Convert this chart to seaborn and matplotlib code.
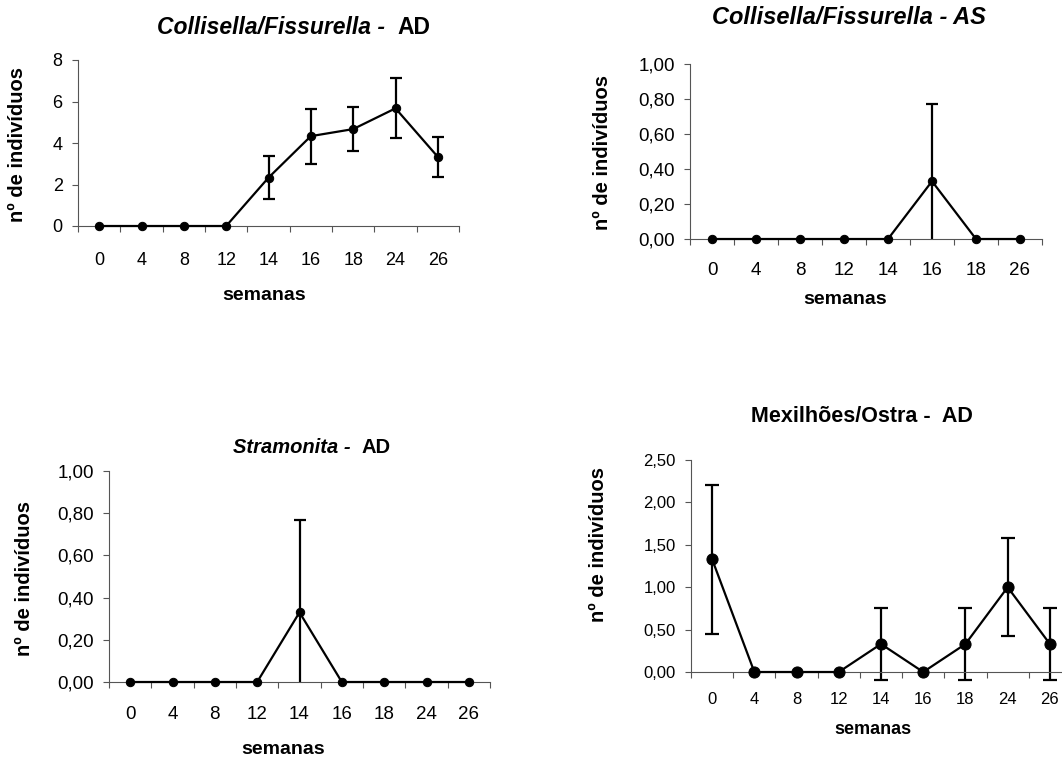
import numpy as np
import pandas as pd
import matplotlib
matplotlib.use('Agg')
import matplotlib.pyplot as plt
from matplotlib.ticker import FuncFormatter, FixedLocator
from matplotlib.text import Annotation
import seaborn as sns

# data (semanas vs nº de indivíduos, mean +/- error)
weeks9 = ['0', '4', '8', '12', '14', '16', '18', '24', '26']
weeks8 = ['0', '4', '8', '12', '14', '16', '18', '26']

coll_ad = [0, 0, 0, 0, 2.33, 4.33, 4.67, 5.67, 3.33]
coll_ad_err = [0, 0, 0, 0, 1.05, 1.32, 1.06, 1.45, 0.98]

coll_as = [0, 0, 0, 0, 0, 0.33, 0, 0]
coll_as_err = [0, 0, 0, 0, 0, 0.44, 0, 0]

stram_ad = [0, 0, 0, 0, 0.33, 0, 0, 0, 0]
stram_ad_err = [0, 0, 0, 0, 0.44, 0, 0, 0, 0]

mex_ad = [1.33, 0, 0, 0, 0.33, 0, 0.33, 1.00, 0.33]
mex_ad_err = [0.88, 0, 0, 0, 0.43, 0, 0.43, 0.58, 0.43]

sns.set_style('ticks')
plt.rcParams['font.family'] = ['Liberation Sans', 'DejaVu Sans']
plt.rcParams['text.color'] = 'black'
plt.rcParams['xtick.labelcolor'] = 'black'
plt.rcParams['ytick.labelcolor'] = 'black'

AXC = '#555555'
W, H = 1062, 758
fig = plt.figure(figsize=(W / 100, H / 100), dpi=100)


def px_axes(left, right, top, bottom):
    return fig.add_axes([left / W, 1 - bottom / H, (right - left) / W, (bottom - top) / H])


def comma(v, pos):
    return f'{v:.2f}'.replace('.', ',')


def panel(ax, labels, vals, errs, ylim, yticks, tick_fs, xpad, ms, cap, clip, decimals=True):
    df = pd.DataFrame({'x': np.arange(len(labels)), 'y': vals, 'e': errs})
    sns.lineplot(data=df, x='x', y='y', ax=ax, color='black', linewidth=1.6,
                 marker='o', markersize=ms, markeredgecolor='black', clip_on=False, zorder=3)
    m = df[df['e'] > 0]
    ax.errorbar(m['x'], m['y'], yerr=m['e'], fmt='none', ecolor='black',
                elinewidth=1.6, capsize=cap, capthick=1.6, clip_on=clip, zorder=2)
    ax.set_xlim(-0.5, len(labels) - 0.5)
    ax.set_ylim(*ylim)
    ax.set_xticks(np.arange(len(labels)))
    ax.set_xticklabels(labels)
    ax.xaxis.set_minor_locator(FixedLocator(np.arange(len(labels) + 1) - 0.5))
    ax.tick_params(axis='x', which='major', length=0, pad=xpad, labelsize=tick_fs)
    ax.tick_params(axis='x', which='minor', length=4, width=0.8, color=AXC)
    ax.set_yticks(yticks)
    if decimals:
        ax.yaxis.set_major_formatter(FuncFormatter(comma))
    ax.tick_params(axis='y', length=4, width=0.8, pad=7, labelsize=tick_fs, color=AXC)
    for s in ['top', 'right']:
        ax.spines[s].set_visible(False)
    for s in ['left', 'bottom']:
        ax.spines[s].set_linewidth(0.8)
        ax.spines[s].set_color(AXC)
    ax.set_xlabel('')
    ax.set_ylabel('')


def mixed_title(x, y, italic, roman, size):
    t1 = fig.text(x / W, 1 - y / H, italic, fontsize=size, fontweight='bold',
                  style='italic', ha='left', va='center')
    if roman:
        fig.add_artist(Annotation(roman, xy=(1, 0), xycoords=t1, fontsize=size,
                                  fontweight='bold', ha='left', va='bottom'))


def ylab(x, yc, size=14.5):
    fig.text(x / W, 1 - yc / H, 'nº de indivíduos', rotation=90, fontsize=size,
             fontweight='bold', ha='center', va='center')


def xlab(xc, y, size=14):
    fig.text(xc / W, 1 - y / H, 'semanas', fontsize=size, fontweight='bold',
             ha='center', va='center')


# panel 1 - Collisella/Fissurella AD
ax1 = px_axes(78, 459, 60, 226)
panel(ax1, weeks9, coll_ad, coll_ad_err, (0, 8), [0, 2, 4, 6, 8], 13, 19, 6, 4, True,
      decimals=False)
mixed_title(157, 28, 'Collisella/Fissurella -  ', 'AD', 16.5)
ylab(18, 144)
xlab(264, 295)

# panel 2 - Collisella/Fissurella AS
ax2 = px_axes(690, 1042, 64, 239)
panel(ax2, weeks8, coll_as, coll_as_err, (0, 1), [0, 0.2, 0.4, 0.6, 0.8, 1.0], 13.5, 16.5,
      6, 4, True)
mixed_title(712, 18, 'Collisella/Fissurella - AS', '', 17)
ylab(603, 152)
xlab(845, 299)

# panel 3 - Stramonita AD
ax3 = px_axes(109, 490, 471, 682)
panel(ax3, weeks9, stram_ad, stram_ad_err, (0, 1), [0, 0.2, 0.4, 0.6, 0.8, 1.0], 13.5, 17.5,
      6, 4, True)
mixed_title(233, 447, 'Stramonita -  ', 'AD', 14.5)
ylab(25, 578)
xlab(283, 750)

# panel 4 - Mexilhões/Ostra AD
ax4 = px_axes(691, 1071, 460, 672)
panel(ax4, weeks9, mex_ad, mex_ad_err, (0, 2.5), [0, 0.5, 1.0, 1.5, 2.0, 2.5], 12, 14.5,
      8, 5, False)
fig.text(862 / W, 1 - 416 / H, 'Mexilhões/Ostra -  AD', fontsize=15.5, fontweight='bold',
         ha='center', va='center')
ylab(598, 545)
xlab(873, 730, 13)

fig.savefig('out.png', dpi=100)
